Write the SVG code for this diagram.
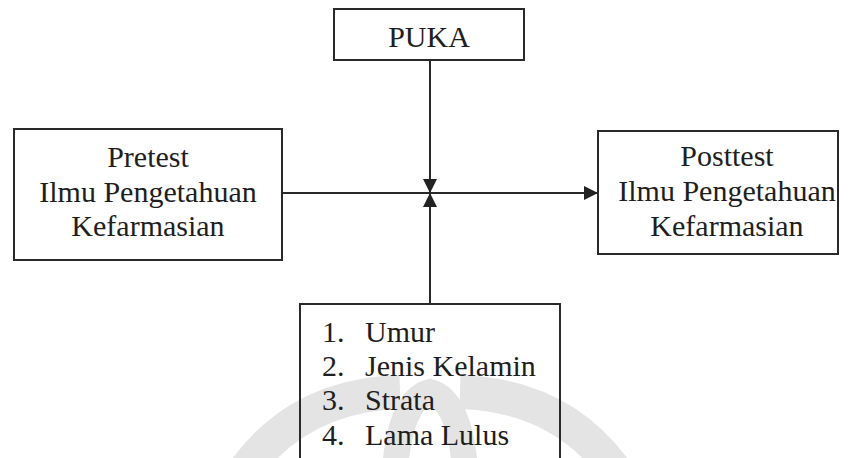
<svg xmlns="http://www.w3.org/2000/svg" width="848" height="458" viewBox="0 0 848 458">
<style>
.box{fill:none;stroke:#2a2a2a;stroke-width:2}
text{font-family:'Liberation Serif','Times New Roman',serif;font-size:30px;fill:#1e1e1e}
.c{text-anchor:middle}
.ln{stroke:#2a2a2a;stroke-width:2;fill:none}
.wm{fill:none;stroke:#e4e4e4}
</style>
<defs>
<marker id="ah" viewBox="0 0 14 14" refX="14" refY="7" markerWidth="14" markerHeight="14" markerUnits="userSpaceOnUse" orient="auto">
<path d="M0,0 L14,7 L0,14 Z" fill="#222"/>
</marker>
</defs>
<g id="watermark">
<path class="wm" stroke-width="34" d="M245,470 Q300,395 400,392"/>
<path class="wm" stroke-width="34" d="M460,392 Q560,395 615,470"/>
<path class="wm" stroke-width="26" d="M395,470 Q400,400 430,392 Q460,400 465,470"/>
</g>
<g id="connectors">
<line class="ln" x1="282" y1="193" x2="598" y2="193" marker-end="url(#ah)"/>
<line class="ln" x1="430" y1="60" x2="430" y2="193" marker-end="url(#ah)"/>
<line class="ln" x1="430" y1="304" x2="430" y2="193" marker-end="url(#ah)"/>
</g>
<g id="puka">
<rect class="box" x="334" y="9" width="190" height="51"/>
<text class="c" x="429" y="47">PUKA</text>
</g>
<g id="pretest">
<rect class="box" x="14" y="129" width="268" height="131"/>
<text class="c" x="148" y="167">Pretest</text>
<text class="c" x="148" y="202">Ilmu Pengetahuan</text>
<text class="c" x="148" y="236">Kefarmasian</text>
</g>
<g id="posttest">
<rect class="box" x="598" y="131" width="240" height="123"/>
<text class="c" x="727" y="166">Posttest</text>
<text class="c" x="727" y="201">Ilmu Pengetahuan</text>
<text class="c" x="727" y="236">Kefarmasian</text>
</g>
<g id="faktor">
<rect class="box" x="300" y="304" width="260" height="170"/>
<text x="322" y="342">1.</text><text x="365" y="342">Umur</text>
<text x="322" y="376">2.</text><text x="365" y="376">Jenis Kelamin</text>
<text x="322" y="410">3.</text><text x="365" y="410">Strata</text>
<text x="322" y="445">4.</text><text x="365" y="445">Lama Lulus</text>
</g>
</svg>
